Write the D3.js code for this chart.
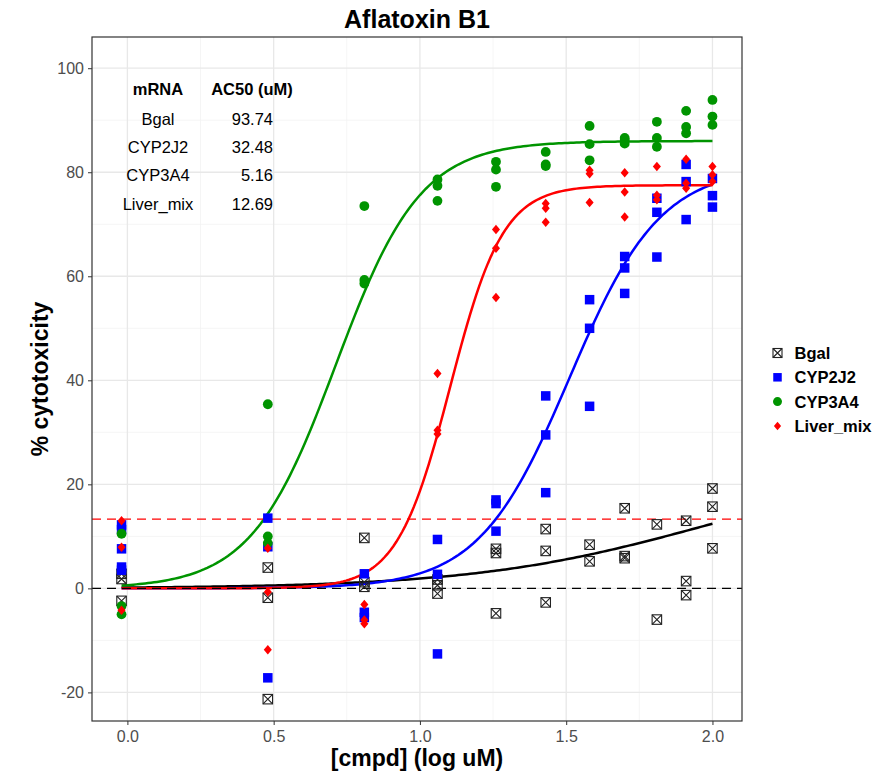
<!DOCTYPE html>
<html>
<head>
<meta charset="utf-8">
<script src="https://cdn.jsdelivr.net/npm/d3@7"></script>
<style>
  body { margin: 0; background: #fff; }
  text { font-family: "Liberation Sans", Arial, sans-serif; }
</style>
</head>
<body>
<div id="graf"></div>
<script>
// I. Data
const logConc = [-0.02, 0.48, 0.81, 1.06, 1.26, 1.43, 1.58, 1.70, 1.81, 1.91, 2.0]

// replicate readings per concentration (% cytotoxicity)
const bgal = [
  [2.8, 1.8, -2.4], [4.0, -1.8, -21.3], [9.7, 1.2, 0.3], [1.7, 0.6, -1.0],
  [7.6, 6.8, -4.8], [11.4, 7.2, -2.7], [8.4, 5.2], [15.4, 6.2, 5.8],
  [12.3, -6.0], [13.0, 1.4, -1.3], [19.2, 15.7, 7.7]
]
const cyp2j2 = [
  [12.2, 11.3, 7.6, 4.1, 3.5], [13.5, 8.0, -17.2], [2.8, -4.6, -5.6], [9.4, 2.7, -12.6],
  [17.0, 16.3, 11.0], [37.0, 29.5, 18.4], [55.5, 50.0, 35.0], [63.8, 61.6, 56.7],
  [75.0, 72.3, 63.7], [81.5, 78.2, 70.9], [78.8, 75.5, 73.3]
]
const cyp3a4 = [
  [10.5, -3.4, -5.0], [35.4, 10.0, 8.7], [73.5, 59.3, 58.6], [78.6, 77.4, 74.5],
  [82.0, 80.5, 77.2], [83.9, 81.5, 81.2], [88.9, 85.4, 82.3], [86.6, 86.2, 85.5],
  [89.7, 86.6, 84.9], [91.8, 88.7, 87.5], [93.9, 90.7, 89.1]
]
const liverMix = [
  [13.0, 7.9, -4.2], [7.7, -0.7, -11.8], [-3.1, -6.1, -6.8], [41.3, 30.4, 29.7],
  [69.0, 65.4, 55.9], [74.0, 73.1, 70.4], [80.4, 79.7, 74.2], [79.9, 76.2, 71.4],
  [81.1, 75.6, 74.7], [82.5, 77.9, 76.9], [81.1, 79.5, 78.2]
]

const mrna = ['Bgal', 'CYP2J2', 'CYP3A4', 'Liver_mix']
const ac50 = [93.74, 32.48, 5.16, 12.69]
const ac50Label = ['93.74', '32.48', '5.16', '12.69']
// Hill fit parameters
const fitTop = [24, 81, 86, 77.5]
const fitSlope = [1.1, 2.8, 3.0, 4.8]

const threshold = 13.3
const xTicks = [0, 0.5, 1, 1.5, 2]
const yTicks = [-20, 0, 20, 40, 60, 80, 100]

const colores = ['#000000', '#0000ff', '#009400', '#ff0000']
const replicas = [bgal, cyp2j2, cyp3a4, liverMix]

// II. Setup
const ancho_total = 884, alto_total = 774
const margins = { top: 37, left: 92, right: 142, bottom: 53 }
const ancho = ancho_total - margins.left - margins.right
const alto = alto_total - margins.top - margins.bottom

const svg = d3.select('#graf').append('svg')
  .attr('width', ancho_total)
  .attr('height', alto_total)

const g = svg.append('g')
  .attr('transform', `translate(${margins.left}, ${margins.top})`)

const x = d3.scaleLinear().domain([-0.121, 2.101]).range([0, ancho])
const y = d3.scaleLinear().domain([-25.5, 106]).range([alto, 0])

// grid
const xMinor = [0.25, 0.75, 1.25, 1.75]
const yMinor = [-10, 10, 30, 50, 70, 90]
g.selectAll('.minx').data(xMinor).enter().append('line')
  .attr('x1', d => x(d)).attr('x2', d => x(d)).attr('y1', 0).attr('y2', alto)
  .attr('stroke', '#f2f2f2').attr('stroke-width', 0.8)
g.selectAll('.miny').data(yMinor).enter().append('line')
  .attr('y1', d => y(d)).attr('y2', d => y(d)).attr('x1', 0).attr('x2', ancho)
  .attr('stroke', '#f2f2f2').attr('stroke-width', 0.8)
g.selectAll('.majx').data(xTicks).enter().append('line')
  .attr('x1', d => x(d)).attr('x2', d => x(d)).attr('y1', 0).attr('y2', alto)
  .attr('stroke', '#e8e8e8').attr('stroke-width', 1.3)
g.selectAll('.majy').data(yTicks).enter().append('line')
  .attr('y1', d => y(d)).attr('y2', d => y(d)).attr('x1', 0).attr('x2', ancho)
  .attr('stroke', '#e8e8e8').attr('stroke-width', 1.3)

// III. Fitted curves
const hill = (lx, i) => fitTop[i] / (1 + Math.pow(10, (Math.log10(ac50[i]) - lx) * fitSlope[i]))
const xs = d3.range(0, 201).map(k => logConc[0] + (logConc[logConc.length - 1] - logConc[0]) * k / 200)
const linea = d3.line().x(d => x(d[0])).y(d => y(d[1]))

mrna.forEach((m, i) => {
  g.append('path')
    .datum(xs.map(v => [v, hill(v, i)]))
    .attr('d', linea)
    .attr('fill', 'none')
    .attr('stroke', colores[i])
    .attr('stroke-width', 2.5)
})

// reference lines
g.append('line')
  .attr('x1', 0).attr('x2', ancho).attr('y1', y(0)).attr('y2', y(0))
  .attr('stroke', '#000').attr('stroke-width', 1.2).attr('stroke-dasharray', '9,6')
g.append('line')
  .attr('x1', 0).attr('x2', ancho).attr('y1', y(threshold)).attr('y2', y(threshold))
  .attr('stroke', '#ff0000').attr('stroke-width', 1.3).attr('stroke-dasharray', '9,6')

// IV. Points
function simbolo(sel, i, s) {
  if (i === 0) {
    const h = s * 0.5
    sel.append('rect').attr('x', -h).attr('y', -h).attr('width', s).attr('height', s)
      .attr('fill', 'none').attr('stroke', '#222').attr('stroke-width', 1.1)
    sel.append('path').attr('d', `M${-h},${-h}L${h},${h}M${-h},${h}L${h},${-h}`)
      .attr('stroke', '#222').attr('stroke-width', 1.1)
  } else if (i === 1) {
    sel.append('rect').attr('x', -s / 2).attr('y', -s / 2).attr('width', s).attr('height', s)
      .attr('fill', colores[i])
  } else if (i === 2) {
    sel.append('circle').attr('r', s / 2).attr('fill', colores[i])
  } else {
    const h = s * 0.5
    sel.append('path').attr('d', `M0,${-h}L${h * 0.85},0L0,${h}L${-h * 0.85},0Z`)
      .attr('fill', colores[i])
  }
}
const tamanos = [9.5, 9.5, 9.8, 9.5]

replicas.forEach((serie, i) => {
  const puntos = []
  serie.forEach((vals, j) => vals.forEach(v => puntos.push([logConc[j], v])))
  g.selectAll(`.p${i}`).data(puntos).enter().append('g')
    .attr('class', `p${i}`)
    .attr('transform', d => `translate(${x(d[0])}, ${y(d[1])})`)
    .each(function () { simbolo(d3.select(this), i, tamanos[i]) })
})

// panel border
g.append('rect').attr('width', ancho).attr('height', alto)
  .attr('fill', 'none').attr('stroke', '#333').attr('stroke-width', 1.2)

// V. Axes
const xAxisGroup = g.append('g').attr('transform', `translate(0, ${alto})`)
xAxisGroup.call(d3.axisBottom(x).tickValues(xTicks).tickFormat(d3.format('.1f')).tickSize(4).tickPadding(6))
const yAxisGroup = g.append('g')
yAxisGroup.call(d3.axisLeft(y).tickValues(yTicks).tickFormat(d => String(d)).tickSize(4).tickPadding(4))
;[xAxisGroup, yAxisGroup].forEach(a => {
  a.select('.domain').remove()
  a.selectAll('line').attr('stroke', '#333')
  a.selectAll('text').attr('fill', '#4d4d4d').style('font-size', '16px')
    .style('font-family', '"Liberation Sans", Arial, sans-serif')
})

// titles
svg.append('text')
  .attr('x', margins.left + ancho / 2).attr('y', 28)
  .attr('text-anchor', 'middle').style('font-size', '25px').style('font-weight', 'bold')
  .text('Aflatoxin B1')
svg.append('text')
  .attr('x', margins.left + ancho / 2).attr('y', 766)
  .attr('text-anchor', 'middle').style('font-size', '23px').style('font-weight', 'bold')
  .text('[cmpd] (log uM)')
svg.append('text')
  .attr('transform', `translate(48, ${margins.top + alto / 2}) rotate(-90)`)
  .attr('text-anchor', 'middle').style('font-size', '23px').style('font-weight', 'bold')
  .text('% cytotoxicity')

// AC50 table
const tabla = svg.append('g')
const filaY = [95, 125, 153, 181, 210]
tabla.append('text').attr('x', 158).attr('y', filaY[0]).attr('text-anchor', 'middle')
  .style('font-size', '16.5px').style('font-weight', 'bold').text('mRNA')
tabla.append('text').attr('x', 252).attr('y', filaY[0]).attr('text-anchor', 'middle')
  .style('font-size', '16.5px').style('font-weight', 'bold').text('AC50 (uM)')
mrna.forEach((m, i) => {
  tabla.append('text').attr('x', 158).attr('y', filaY[i + 1]).attr('text-anchor', 'middle')
    .style('font-size', '16.5px').text(m)
  tabla.append('text').attr('x', 273).attr('y', filaY[i + 1]).attr('text-anchor', 'end')
    .style('font-size', '16.5px').text(ac50Label[i])
})

// legend
const leyenda = svg.append('g')
mrna.forEach((m, i) => {
  const fila = leyenda.append('g').attr('transform', `translate(777.5, ${353 + i * 24.3})`)
  simbolo(fila, i, [9, 8.5, 9, 8.5][i])
  fila.append('text').attr('x', 17).attr('y', 6)
    .style('font-size', '16.5px').style('font-weight', 'bold').text(m)
})
</script>
</body>
</html>
